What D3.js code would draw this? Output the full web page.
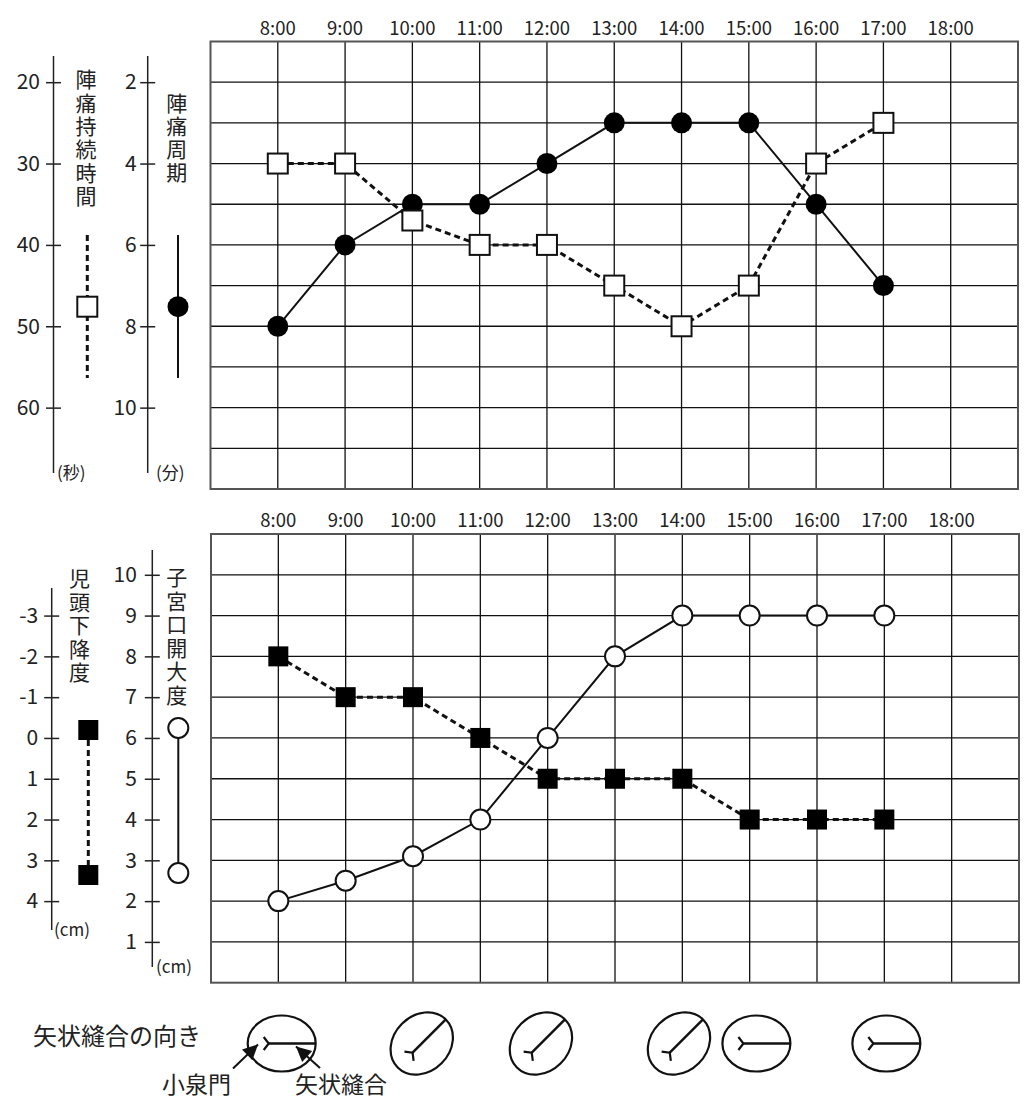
<!DOCTYPE html>
<html>
<head>
<meta charset="utf-8">
<script src="https://cdn.jsdelivr.net/npm/d3@7"></script>
<style>
  body { margin: 0; background: #fff; }
  svg text { font-family: "Noto Sans CJK JP", "Noto Sans", sans-serif; fill: #222; }
</style>
</head>
<body>
<svg id="viz"></svg>
<script>
(function() {
  // --- data ---
  const hours = [8, 9, 10, 11, 12, 13, 14, 15, 16, 17];
  const hourTicks = [8, 9, 10, 11, 12, 13, 14, 15, 16, 17, 18];
  const timeLabels = ['8:00', '9:00', '10:00', '11:00', '12:00', '13:00', '14:00', '15:00', '16:00', '17:00', '18:00'];

  const durationSec = [30, 30, 37, 40, 40, 45, 50, 45, 30, 25];   // 陣痛持続時間 (秒)
  const intervalMin = [8, 6, 5, 5, 4, 3, 3, 3, 5, 7];             // 陣痛周期 (分)
  const cervixCm = [2, 2.5, 3.1, 4, 6, 8, 9, 9, 9, 9];            // 子宮口開大度 (cm)
  const stationCm = [-2, -1, -1, 0, 1, 1, 1, 2, 2, 2];            // 児頭下降度 (cm)

  const durationTicks = [20, 30, 40, 50, 60];
  const intervalTicks = [2, 4, 6, 8, 10];
  const stationTicks = [-3, -2, -1, 0, 1, 2, 3, 4];
  const cervixTicks = [10, 9, 8, 7, 6, 5, 4, 3, 2, 1];

  const sutureHours = [8.05, 10.13, 11.9, 13.95, 15.1, 17.03];   // 矢状縫合の向き
  const sutureAngles = [0, -45, -45, -45, 0, 0];

  const W = 1033, H = 1105;
  const svg = d3.select('#viz').attr('width', W).attr('height', H);

  const top = { x0: 210.5, x1: 1018, y0: 41.5, y1: 489 };
  const bot = { x0: 211, x1: 1019, y0: 534, y1: 982.7 };

  const xTop = d3.scaleLinear().domain([7, 19]).range([top.x0, top.x1]);
  const xBot = d3.scaleLinear().domain([7, 19]).range([bot.x0, bot.x1]);

  const yInterval = d3.scaleLinear().domain([1, 12]).range([top.y0, top.y1]);
  const yDuration = d3.scaleLinear().domain([15, 70]).range([top.y0, top.y1]);
  const yCervix = d3.scaleLinear().domain([11, 0]).range([bot.y0, bot.y1]);
  const yStation = d3.scaleLinear().domain([-5, 6]).range([bot.y0, bot.y1]);

  function grid(box, x, y, rows) {
    const g = svg.append('g');
    g.selectAll('line.v').data(hourTicks).join('line')
      .attr('x1', d => x(d)).attr('x2', d => x(d))
      .attr('y1', box.y0).attr('y2', box.y1)
      .attr('stroke', '#111').attr('stroke-width', 1.3);
    g.selectAll('line.h').data(rows).join('line')
      .attr('x1', box.x0).attr('x2', box.x1)
      .attr('y1', d => y(d)).attr('y2', d => y(d))
      .attr('stroke', '#111').attr('stroke-width', 1.3);
    g.append('rect')
      .attr('x', box.x0).attr('y', box.y0)
      .attr('width', box.x1 - box.x0).attr('height', box.y1 - box.y0)
      .attr('fill', 'none').attr('stroke', '#555').attr('stroke-width', 2);

    svg.append('g').selectAll('text').data(hourTicks).join('text')
      .attr('x', d => x(d)).attr('y', box.y0 - 15)
      .attr('text-anchor', 'middle').attr('dominant-baseline', 'central')
      .style('font-size', '18.5px')
      .text((d, i) => timeLabels[i]);
  }

  grid(top, xTop, yInterval, d3.range(2, 12));
  grid(bot, xBot, yCervix, d3.range(1, 11));

  function sideAxis(scale, ticks, ax, y0, y1, pad) {
    const g = svg.append('g').attr('transform', `translate(${ax},0)`)
      .call(d3.axisLeft(scale).tickValues(ticks).tickFormat(d => String(d))
        .tickSizeInner(7.5).tickSizeOuter(0).tickPadding(pad));
    g.select('.domain').remove();
    g.selectAll('.tick line').attr('x1', -7.5).attr('x2', 7.5).attr('stroke', '#222').attr('stroke-width', 1.5);
    g.selectAll('.tick text')
      .style('font-size', '21px')
      .style('font-family', '"Noto Sans CJK JP", sans-serif')
      .attr('fill', '#222');
    g.append('line').attr('x1', 0).attr('x2', 0).attr('y1', y0).attr('y2', y1)
      .attr('stroke', '#222').attr('stroke-width', 1.5);
  }

  sideAxis(yDuration, durationTicks, 53.5, 56, 473, 6);
  sideAxis(yInterval, intervalTicks, 147.7, 56, 473, 3.5);
  sideAxis(yStation, stationTicks, 51.7, 588, 930, 6);
  sideAxis(yCervix, cervixTicks, 152.3, 550, 967, 8);

  // vertical axis titles, one text each, written top to bottom
  function vtitle(str, cx, ytop, pitch) {
    svg.append('text')
      .attr('x', cx).attr('y', ytop)
      .style('writing-mode', 'vertical-rl')
      .style('text-orientation', 'upright')
      .style('font-size', '21px')
      .style('letter-spacing', (pitch - 21) + 'px')
      .text(str);
  }
  vtitle('陣痛持続時間', 86, 69, 23.3);
  vtitle('陣痛周期', 176.7, 93, 23);
  vtitle('児頭下降度', 79.5, 568, 23.4);
  vtitle('子宮口開大度', 176.7, 567, 23.5);

  function unit(str, x, y) {
    svg.append('text').attr('x', x).attr('y', y)
      .attr('dominant-baseline', 'central')
      .style('font-size', '17px').text(str);
  }
  unit('(秒)', 57, 471);
  unit('(分)', 156, 471);
  unit('(cm)', 54, 928);
  unit('(cm)', 156, 965);

  // legends
  const leg = svg.append('g');
  leg.append('line').attr('x1', 87.3).attr('x2', 87.3).attr('y1', 235).attr('y2', 378)
    .attr('stroke', '#111').attr('stroke-width', 3).attr('stroke-dasharray', '6,4');
  leg.append('rect').attr('x', 77.3).attr('y', 296.7).attr('width', 20).attr('height', 20)
    .attr('fill', '#fff').attr('stroke', '#111').attr('stroke-width', 2);
  leg.append('line').attr('x1', 178).attr('x2', 178).attr('y1', 235).attr('y2', 378)
    .attr('stroke', '#111').attr('stroke-width', 2);
  leg.append('circle').attr('cx', 178).attr('cy', 306.7).attr('r', 10.5).attr('fill', '#000');

  leg.append('line').attr('x1', 88.3).attr('x2', 88.3).attr('y1', 730).attr('y2', 875)
    .attr('stroke', '#111').attr('stroke-width', 3).attr('stroke-dasharray', '6,4');
  [730, 875].forEach(cy => {
    leg.append('rect').attr('x', 78.3).attr('y', cy - 10).attr('width', 20).attr('height', 20).attr('fill', '#000');
  });
  leg.append('line').attr('x1', 178.3).attr('x2', 178.3).attr('y1', 728).attr('y2', 873)
    .attr('stroke', '#111').attr('stroke-width', 2);
  [728, 873].forEach(cy => {
    leg.append('circle').attr('cx', 178.3).attr('cy', cy).attr('r', 10)
      .attr('fill', '#fff').attr('stroke', '#111').attr('stroke-width', 2);
  });

  // series
  function series(x, y, values, opts) {
    const pts = hours.map((h, i) => [x(h), y(values[i])]);
    svg.append('path').attr('d', d3.line()(pts))
      .attr('fill', 'none').attr('stroke', '#111')
      .attr('stroke-width', opts.dashed ? 3 : 2)
      .attr('stroke-dasharray', opts.dashed ? '6,4' : null);
    const g = svg.append('g');
    if (opts.shape === 'circle') {
      g.selectAll('circle').data(pts).join('circle')
        .attr('cx', d => d[0]).attr('cy', d => d[1]).attr('r', opts.filled ? 10.5 : 10)
        .attr('fill', opts.filled ? '#000' : '#fff')
        .attr('stroke', '#111').attr('stroke-width', opts.filled ? 0 : 2);
    } else {
      g.selectAll('rect').data(pts).join('rect')
        .attr('x', d => d[0] - 10).attr('y', d => d[1] - 10)
        .attr('width', 20).attr('height', 20)
        .attr('fill', opts.filled ? '#000' : '#fff')
        .attr('stroke', '#111').attr('stroke-width', opts.filled ? 0 : 2);
    }
  }

  series(xTop, yInterval, intervalMin, { shape: 'circle', filled: true, dashed: false });
  series(xTop, yDuration, durationSec, { shape: 'rect', filled: false, dashed: true });
  series(xBot, yCervix, cervixCm, { shape: 'circle', filled: false, dashed: false });
  series(xBot, yStation, stationCm, { shape: 'rect', filled: true, dashed: true });

  // sagittal suture orientation
  svg.append('text').attr('x', 33).attr('y', 1034)
    .attr('dominant-baseline', 'central').style('font-size', '24px')
    .text('矢状縫合の向き');

  const iconY = 1043.5;
  sutureHours.forEach((h, i) => {
    const g = svg.append('g')
      .attr('transform', `translate(${xBot(h)},${iconY}) rotate(${sutureAngles[i]})`)
      .attr('fill', 'none').attr('stroke', '#111');
    g.append('ellipse').attr('rx', 34).attr('ry', 28).attr('stroke-width', 2.2);
    g.append('line').attr('x1', -13).attr('x2', 34).attr('y1', 0).attr('y2', 0).attr('stroke-width', 2.5);
    g.append('path').attr('d', 'M-18,-6.5L-13,0L-18,6.5').attr('stroke-width', 2.2);
  });

  // callouts
  const defs = svg.append('defs');
  defs.append('marker').attr('id', 'ah')
    .attr('viewBox', '0 0 10 10').attr('refX', 10).attr('refY', 5)
    .attr('markerWidth', 19).attr('markerHeight', 15).attr('markerUnits', 'userSpaceOnUse')
    .attr('orient', 'auto')
    .append('path').attr('d', 'M0,0L10,5L0,10Z').attr('fill', '#111');

  svg.append('line').attr('x1', 233).attr('y1', 1068.5).attr('x2', 258).attr('y2', 1044.5)
    .attr('stroke', '#111').attr('stroke-width', 2).attr('marker-end', 'url(#ah)');
  svg.append('line').attr('x1', 320).attr('y1', 1068).attr('x2', 296).attr('y2', 1046.5)
    .attr('stroke', '#111').attr('stroke-width', 2).attr('marker-end', 'url(#ah)');

  svg.append('text').attr('x', 162).attr('y', 1083)
    .attr('dominant-baseline', 'central').style('font-size', '23px').text('小泉門');
  svg.append('text').attr('x', 295).attr('y', 1083)
    .attr('dominant-baseline', 'central').style('font-size', '23px').text('矢状縫合');
})();
</script>
</body>
</html>
